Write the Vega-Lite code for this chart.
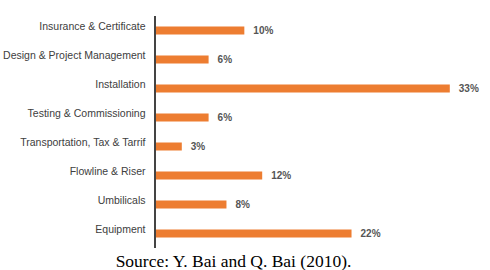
{
  "$schema": "https://vega.github.io/schema/vega-lite/v6.json",
  "autosize": "none",
  "width": 335,
  "height": 232,
  "padding": {"left": 155, "top": 16, "right": 0, "bottom": 22},
  "background": "white",
  "title": {
    "text": "Source: Y. Bai and Q. Bai (2010).",
    "orient": "bottom",
    "anchor": "middle",
    "dx": -89,
    "offset": 4,
    "font": "Liberation Serif",
    "fontSize": 17.5,
    "fontWeight": "normal",
    "color": "#000000"
  },
  "data": {
    "values": [
      {"category": "Insurance & Certificate", "pct": 10, "label": "10%"},
      {"category": "Design & Project Management", "pct": 6, "label": "6%"},
      {"category": "Installation", "pct": 33, "label": "33%"},
      {"category": "Testing & Commissioning", "pct": 6, "label": "6%"},
      {"category": "Transportation, Tax & Tarrif", "pct": 3, "label": "3%"},
      {"category": "Flowline & Riser", "pct": 12, "label": "12%"},
      {"category": "Umbilicals", "pct": 8, "label": "8%"},
      {"category": "Equipment", "pct": 22, "label": "22%"}
    ]
  },
  "encoding": {
    "y": {
      "field": "category",
      "type": "nominal",
      "sort": null,
      "scale": {"paddingInner": 0, "paddingOuter": 0},
      "axis": {
        "title": null,
        "ticks": false,
        "domain": false,
        "labelPadding": 10,
        "labelOffset": -4,
        "labelFont": "Liberation Sans",
        "labelFontSize": 10.5,
        "labelColor": "#404040",
        "labelLimit": 200
      }
    },
    "x": {
      "field": "pct",
      "type": "quantitative",
      "scale": {"domain": [0, 37.5], "nice": false},
      "axis": null
    }
  },
  "layer": [
    {
      "mark": {"type": "bar", "size": 8, "color": "#ED7D31"}
    },
    {
      "mark": {"type": "text", "align": "left", "baseline": "middle", "dx": 9, "font": "Liberation Sans", "fontSize": 10, "fontWeight": "bold", "color": "#555555"},
      "encoding": {"text": {"field": "label", "type": "nominal"}}
    },
    {
      "mark": {"type": "rule", "color": "#444444", "strokeWidth": 1.5},
      "encoding": {"x": {"datum": 0}, "y": null}
    }
  ],
  "config": {"view": {"stroke": null}}
}
